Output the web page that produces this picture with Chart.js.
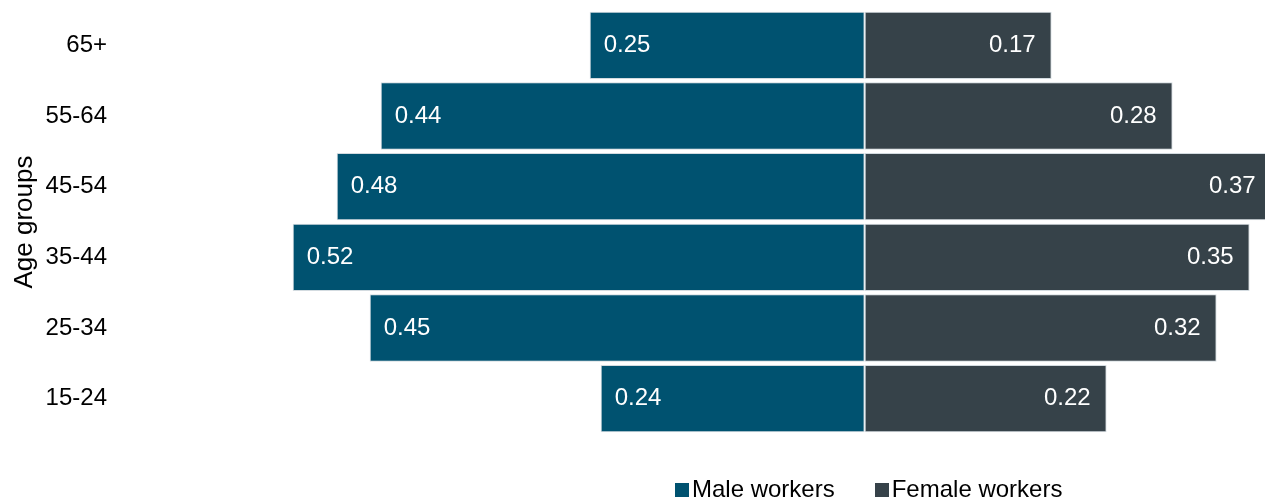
<!DOCTYPE html>
<html>
<head>
<meta charset="utf-8">
<script src="https://cdn.jsdelivr.net/npm/chart.js@4/dist/chart.umd.min.js"></script>
<style>
  html, body { margin: 0; padding: 0; background: #fff; }
  #wrap { position: relative; width: 1265px; height: 498px; overflow: hidden; }
  #legend {
    position: absolute; left: 0; top: 477px; height: 24px; width: 1265px;
    display: flex; align-items: center; padding-left: 675px; box-sizing: border-box;
    font-family: 'Liberation Sans', Arial, sans-serif; font-size: 24px; line-height: 24px; color: #000;
    white-space: nowrap;
  }
  .item { display: flex; align-items: center; }
  .item + .item { margin-left: 40px; }
  .swatch { width: 14px; height: 14px; margin-right: 3px; margin-top: 2px; }
</style>
</head>
<body>
<div id="wrap">
  <canvas id="chart" width="1265" height="498"></canvas>
  <div id="legend"></div>
</div>
<script>
// Age groups, listed top to bottom
const categories = ['65+', '55-64', '45-54', '35-44', '25-34', '15-24'];
// Share of workers in each age group
const maleWorkers = [0.25, 0.44, 0.48, 0.52, 0.45, 0.24];
const femaleWorkers = [0.17, 0.28, 0.37, 0.35, 0.32, 0.22];
const seriesNames = ['Male workers', 'Female workers'];
const seriesColors = ['#005270', '#364249'];
const axisTitle = 'Age groups';
// Horizontal value range of the plot
const xMin = -0.677;
const xMax = 0.364;

Chart.defaults.font.family = "'Liberation Sans', Arial, sans-serif";
Chart.defaults.color = '#000';

// Value labels drawn inside each bar: male at the outer-left end, female at the outer-right end
const barLabels = {
  id: 'barLabels',
  afterDatasetsDraw(chart) {
    const ctx = chart.ctx;
    ctx.save();
    ctx.font = "24px 'Liberation Sans', Arial, sans-serif";
    ctx.fillStyle = '#ffffff';
    ctx.textBaseline = 'middle';
    const sources = [maleWorkers, femaleWorkers];
    chart.data.datasets.forEach((ds, i) => {
      chart.getDatasetMeta(i).data.forEach((bar, j) => {
        const text = sources[i][j].toFixed(2);
        if (i === 0) {
          ctx.textAlign = 'left';
          ctx.fillText(text, bar.x + 14, bar.y);
        } else {
          ctx.textAlign = 'right';
          ctx.fillText(text, bar.x - 16, bar.y);
        }
      });
    });
    ctx.restore();
  }
};

new Chart(document.getElementById('chart'), {
  type: 'bar',
  data: {
    labels: categories,
    datasets: [
      {
        label: seriesNames[0],
        data: maleWorkers.map(v => -v),
        backgroundColor: seriesColors[0],
        borderColor: '#d3dbe0',
        borderWidth: 1,
        borderSkipped: false,
        barPercentage: 0.952,
        categoryPercentage: 1
      },
      {
        label: seriesNames[1],
        data: femaleWorkers,
        backgroundColor: seriesColors[1],
        borderColor: '#d3dbe0',
        borderWidth: 1,
        borderSkipped: false,
        barPercentage: 0.952,
        categoryPercentage: 1
      }
    ]
  },
  options: {
    indexAxis: 'y',
    responsive: false,
    animation: false,
    layout: { padding: { top: 10, bottom: 64, left: 0, right: 0 } },
    plugins: {
      legend: { display: false },
      tooltip: { enabled: false }
    },
    scales: {
      x: {
        stacked: true,
        min: xMin,
        max: xMax,
        display: false
      },
      y: {
        stacked: true,
        grid: { display: false, drawTicks: false },
        border: { display: false },
        ticks: { padding: 13, font: { size: 24 }, color: '#000' },
        title: {
          display: true,
          text: axisTitle,
          font: { size: 26 },
          color: '#000',
          padding: { top: 9, bottom: 0 }
        },
        afterFit(scale) {
          scale.width = 120;
          scale.paddingTop = 0;
          scale.paddingBottom = 0;
        }
      }
    }
  },
  plugins: [barLabels]
});

// Legend row beneath the plot
const legend = document.getElementById('legend');
seriesNames.forEach((name, i) => {
  const item = document.createElement('span');
  item.className = 'item';
  const sw = document.createElement('span');
  sw.className = 'swatch';
  sw.style.background = seriesColors[i];
  const txt = document.createElement('span');
  txt.textContent = name;
  item.appendChild(sw);
  item.appendChild(txt);
  legend.appendChild(item);
});
</script>
</body>
</html>
